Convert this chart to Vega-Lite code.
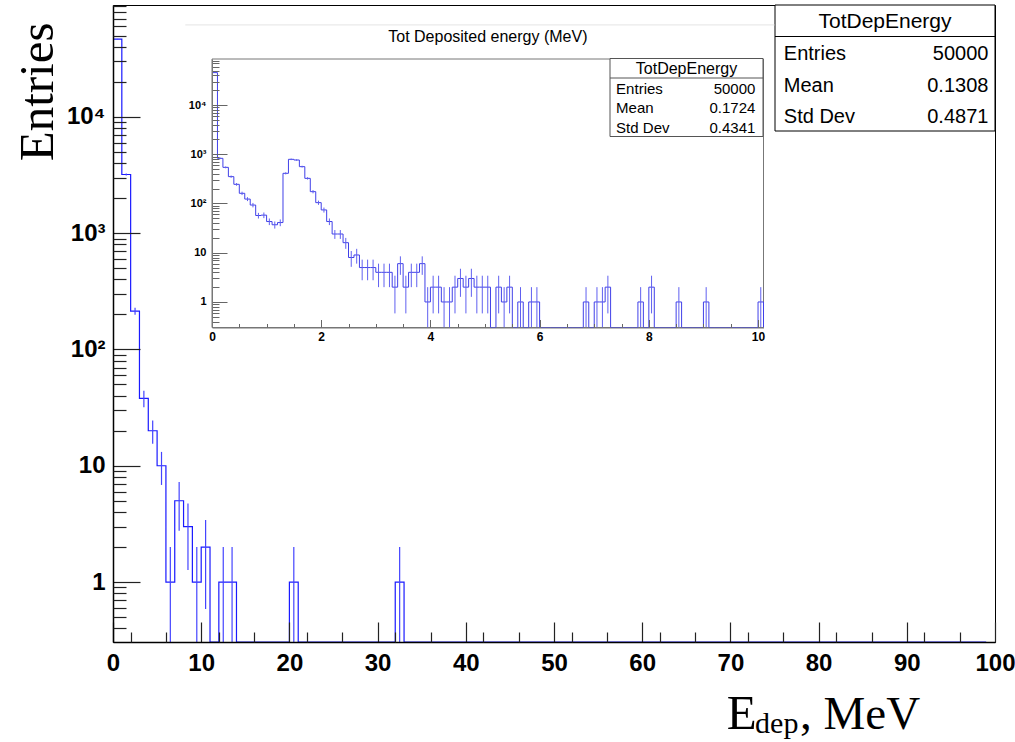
{
  "$schema": "https://vega.github.io/schema/vega-lite/v6.json",
  "width": 882,
  "height": 637,
  "autosize": {"type": "none"},
  "padding": {"left": 113, "top": 5, "right": 20, "bottom": 100},
  "background": "white",
  "config": {"view": {"stroke": "black", "strokeWidth": 1}, "axis": {"grid": false}},
  "datasets": {
    "main": [
      {"e":0,"c":0.5,"n":46700,"lo":46484,"hi":46916},
      {"e":1,"c":1.5,"n":3200,"lo":3143,"hi":3257},
      {"e":2,"c":2.5,"n":214,"lo":199.4,"hi":228.6},
      {"e":3,"c":3.5,"n":38,"lo":31.8,"hi":44.2},
      {"e":4,"c":4.5,"n":20,"lo":15.5,"hi":24.5},
      {"e":5,"c":5.5,"n":10,"lo":6.84,"hi":13.16},
      {"e":6,"c":6.5,"n":1,"lo":0,"hi":2},
      {"e":7,"c":7.5,"n":5,"lo":2.76,"hi":7.24},
      {"e":8,"c":8.5,"n":3,"lo":1.27,"hi":4.73},
      {"e":9,"c":9.5,"n":1,"lo":0,"hi":2},
      {"e":10,"c":10.5,"n":2,"lo":0.586,"hi":3.414},
      {"e":11,"c":11.5,"n":0},
      {"e":12,"c":12.5,"n":1,"lo":0,"hi":2},
      {"e":13,"c":13.5,"n":1,"lo":0,"hi":2},
      {"e":14,"c":14.5,"n":0},{"e":15,"c":15.5,"n":0},{"e":16,"c":16.5,"n":0},{"e":17,"c":17.5,"n":0},{"e":18,"c":18.5,"n":0},{"e":19,"c":19.5,"n":0},
      {"e":20,"c":20.5,"n":1,"lo":0,"hi":2},
      {"e":21,"c":21.5,"n":0},{"e":22,"c":22.5,"n":0},{"e":23,"c":23.5,"n":0},{"e":24,"c":24.5,"n":0},{"e":25,"c":25.5,"n":0},{"e":26,"c":26.5,"n":0},{"e":27,"c":27.5,"n":0},{"e":28,"c":28.5,"n":0},{"e":29,"c":29.5,"n":0},{"e":30,"c":30.5,"n":0},{"e":31,"c":31.5,"n":0},
      {"e":32,"c":32.5,"n":1,"lo":0,"hi":2},
      {"e":33,"c":33.5,"n":0},{"e":34,"c":34.5,"n":0},{"e":35,"c":35.5,"n":0},{"e":36,"c":36.5,"n":0},{"e":37,"c":37.5,"n":0},{"e":38,"c":38.5,"n":0},{"e":39,"c":39.5,"n":0},
      {"e":40,"c":40.5,"n":0},{"e":41,"c":41.5,"n":0},{"e":42,"c":42.5,"n":0},{"e":43,"c":43.5,"n":0},{"e":44,"c":44.5,"n":0},{"e":45,"c":45.5,"n":0},{"e":46,"c":46.5,"n":0},{"e":47,"c":47.5,"n":0},{"e":48,"c":48.5,"n":0},{"e":49,"c":49.5,"n":0},
      {"e":50,"c":50.5,"n":0},{"e":51,"c":51.5,"n":0},{"e":52,"c":52.5,"n":0},{"e":53,"c":53.5,"n":0},{"e":54,"c":54.5,"n":0},{"e":55,"c":55.5,"n":0},{"e":56,"c":56.5,"n":0},{"e":57,"c":57.5,"n":0},{"e":58,"c":58.5,"n":0},{"e":59,"c":59.5,"n":0},
      {"e":60,"c":60.5,"n":0},{"e":61,"c":61.5,"n":0},{"e":62,"c":62.5,"n":0},{"e":63,"c":63.5,"n":0},{"e":64,"c":64.5,"n":0},{"e":65,"c":65.5,"n":0},{"e":66,"c":66.5,"n":0},{"e":67,"c":67.5,"n":0},{"e":68,"c":68.5,"n":0},{"e":69,"c":69.5,"n":0},
      {"e":70,"c":70.5,"n":0},{"e":71,"c":71.5,"n":0},{"e":72,"c":72.5,"n":0},{"e":73,"c":73.5,"n":0},{"e":74,"c":74.5,"n":0},{"e":75,"c":75.5,"n":0},{"e":76,"c":76.5,"n":0},{"e":77,"c":77.5,"n":0},{"e":78,"c":78.5,"n":0},{"e":79,"c":79.5,"n":0},
      {"e":80,"c":80.5,"n":0},{"e":81,"c":81.5,"n":0},{"e":82,"c":82.5,"n":0},{"e":83,"c":83.5,"n":0},{"e":84,"c":84.5,"n":0},{"e":85,"c":85.5,"n":0},{"e":86,"c":86.5,"n":0},{"e":87,"c":87.5,"n":0},{"e":88,"c":88.5,"n":0},{"e":89,"c":89.5,"n":0},
      {"e":90,"c":90.5,"n":0},{"e":91,"c":91.5,"n":0},{"e":92,"c":92.5,"n":0},{"e":93,"c":93.5,"n":0},{"e":94,"c":94.5,"n":0},{"e":95,"c":95.5,"n":0},{"e":96,"c":96.5,"n":0},{"e":97,"c":97.5,"n":0},{"e":98,"c":98.5,"n":0},{"e":99,"c":99.5,"n":0}
    ],
    "inset": [
      {"e":0,"c":0.05,"n":45500,"lo":45287,"hi":45713},
      {"e":0.1,"c":0.15,"n":826,"lo":797.3,"hi":854.7},
      {"e":0.2,"c":0.25,"n":542,"lo":518.7,"hi":565.3},
      {"e":0.3,"c":0.35,"n":351,"lo":332.3,"hi":369.7},
      {"e":0.4,"c":0.45,"n":245,"lo":229.3,"hi":260.7},
      {"e":0.5,"c":0.55,"n":161,"lo":148.3,"hi":173.7},
      {"e":0.6,"c":0.65,"n":123,"lo":111.9,"hi":134.1},
      {"e":0.7,"c":0.75,"n":93,"lo":83.4,"hi":102.6},
      {"e":0.8,"c":0.85,"n":57,"lo":49.5,"hi":64.5},
      {"e":0.9,"c":0.95,"n":58,"lo":50.4,"hi":65.6},
      {"e":1.0,"c":1.05,"n":43,"lo":36.4,"hi":49.6},
      {"e":1.1,"c":1.15,"n":37,"lo":30.9,"hi":43.1},
      {"e":1.2,"c":1.25,"n":41,"lo":34.6,"hi":47.4},
      {"e":1.3,"c":1.35,"n":410,"lo":389.8,"hi":430.2},
      {"e":1.4,"c":1.45,"n":789,"lo":760.9,"hi":817.1},
      {"e":1.5,"c":1.55,"n":764,"lo":736.4,"hi":791.6},
      {"e":1.6,"c":1.65,"n":560,"lo":536.3,"hi":583.7},
      {"e":1.7,"c":1.75,"n":324,"lo":306,"hi":342},
      {"e":1.8,"c":1.85,"n":174,"lo":160.8,"hi":187.2},
      {"e":1.9,"c":1.95,"n":104,"lo":93.8,"hi":114.2},
      {"e":2.0,"c":2.05,"n":74,"lo":65.4,"hi":82.6},
      {"e":2.1,"c":2.15,"n":43,"lo":36.4,"hi":49.6},
      {"e":2.2,"c":2.25,"n":24,"lo":19.1,"hi":28.9},
      {"e":2.3,"c":2.35,"n":24,"lo":19.1,"hi":28.9},
      {"e":2.4,"c":2.45,"n":16,"lo":12,"hi":20},
      {"e":2.5,"c":2.55,"n":8,"lo":5.17,"hi":10.83},
      {"e":2.6,"c":2.65,"n":9,"lo":6,"hi":12},
      {"e":2.7,"c":2.75,"n":5,"lo":2.76,"hi":7.24},
      {"e":2.8,"c":2.85,"n":5,"lo":2.76,"hi":7.24},
      {"e":2.9,"c":2.95,"n":5,"lo":2.76,"hi":7.24},
      {"e":3.0,"c":3.05,"n":4,"lo":2,"hi":6},
      {"e":3.1,"c":3.15,"n":4,"lo":2,"hi":6},
      {"e":3.2,"c":3.25,"n":4,"lo":2,"hi":6},
      {"e":3.3,"c":3.35,"n":2,"lo":0.586,"hi":3.414},
      {"e":3.4,"c":3.45,"n":6,"lo":3.55,"hi":8.45},
      {"e":3.5,"c":3.55,"n":2,"lo":0.586,"hi":3.414},
      {"e":3.6,"c":3.65,"n":4,"lo":2,"hi":6},
      {"e":3.7,"c":3.75,"n":4,"lo":2,"hi":6},
      {"e":3.8,"c":3.85,"n":6,"lo":3.55,"hi":8.45},
      {"e":3.9,"c":3.95,"n":1,"lo":0,"hi":2},
      {"e":4.0,"c":4.05,"n":2,"lo":0.586,"hi":3.414},
      {"e":4.1,"c":4.15,"n":2,"lo":0.586,"hi":3.414},
      {"e":4.2,"c":4.25,"n":1,"lo":0,"hi":2},
      {"e":4.3,"c":4.35,"n":1,"lo":0,"hi":2},
      {"e":4.4,"c":4.45,"n":2,"lo":0.586,"hi":3.414},
      {"e":4.5,"c":4.55,"n":3,"lo":1.27,"hi":4.73},
      {"e":4.6,"c":4.65,"n":2,"lo":0.586,"hi":3.414},
      {"e":4.7,"c":4.75,"n":3,"lo":1.27,"hi":4.73},
      {"e":4.8,"c":4.85,"n":2,"lo":0.586,"hi":3.414},
      {"e":4.9,"c":4.95,"n":2,"lo":0.586,"hi":3.414},
      {"e":5.0,"c":5.05,"n":2,"lo":0.586,"hi":3.414},
      {"e":5.1,"c":5.15,"n":0},
      {"e":5.2,"c":5.25,"n":2,"lo":0.586,"hi":3.414},
      {"e":5.3,"c":5.35,"n":1,"lo":0,"hi":2},
      {"e":5.4,"c":5.45,"n":2,"lo":0.586,"hi":3.414},
      {"e":5.5,"c":5.55,"n":0},
      {"e":5.6,"c":5.65,"n":1,"lo":0,"hi":2},
      {"e":5.7,"c":5.75,"n":0},
      {"e":5.8,"c":5.85,"n":1,"lo":0,"hi":2},
      {"e":5.9,"c":5.95,"n":1,"lo":0,"hi":2},
      {"e":6.0,"c":6.05,"n":0},{"e":6.1,"c":6.15,"n":0},{"e":6.2,"c":6.25,"n":0},{"e":6.3,"c":6.35,"n":0},{"e":6.4,"c":6.45,"n":0},{"e":6.5,"c":6.55,"n":0},{"e":6.6,"c":6.65,"n":0},{"e":6.7,"c":6.75,"n":0},
      {"e":6.8,"c":6.85,"n":1,"lo":0,"hi":2},
      {"e":6.9,"c":6.95,"n":0},
      {"e":7.0,"c":7.05,"n":1,"lo":0,"hi":2},
      {"e":7.1,"c":7.15,"n":1,"lo":0,"hi":2},
      {"e":7.2,"c":7.25,"n":2,"lo":0.586,"hi":3.414},
      {"e":7.3,"c":7.35,"n":0},{"e":7.4,"c":7.45,"n":0},{"e":7.5,"c":7.55,"n":0},{"e":7.6,"c":7.65,"n":0},{"e":7.7,"c":7.75,"n":0},
      {"e":7.8,"c":7.85,"n":1,"lo":0,"hi":2},
      {"e":7.9,"c":7.95,"n":0},
      {"e":8.0,"c":8.05,"n":2,"lo":0.586,"hi":3.414},
      {"e":8.1,"c":8.15,"n":0},{"e":8.2,"c":8.25,"n":0},{"e":8.3,"c":8.35,"n":0},{"e":8.4,"c":8.45,"n":0},
      {"e":8.5,"c":8.55,"n":1,"lo":0,"hi":2},
      {"e":8.6,"c":8.65,"n":0},{"e":8.7,"c":8.75,"n":0},{"e":8.8,"c":8.85,"n":0},{"e":8.9,"c":8.95,"n":0},
      {"e":9.0,"c":9.05,"n":1,"lo":0,"hi":2},
      {"e":9.1,"c":9.15,"n":0},{"e":9.2,"c":9.25,"n":0},{"e":9.3,"c":9.35,"n":0},{"e":9.4,"c":9.45,"n":0},{"e":9.5,"c":9.55,"n":0},{"e":9.6,"c":9.65,"n":0},{"e":9.7,"c":9.75,"n":0},{"e":9.8,"c":9.85,"n":0},{"e":9.9,"c":9.95,"n":0},
      {"e":10.0,"c":10.05,"n":1,"lo":0,"hi":2},
      {"e":10.1,"c":10.15,"n":0}
    ],
    "mainStats": [
      {"role":"title","k":"TotDepEnergy","v":""},
      {"role":"stat","k":"Entries","v":"50000"},
      {"role":"stat","k":"Mean","v":"0.1308"},
      {"role":"stat","k":"Std Dev","v":"0.4871"}
    ],
    "insetStats": [
      {"role":"title","k":"TotDepEnergy","v":""},
      {"role":"stat","k":"Entries","v":"50000"},
      {"role":"stat","k":"Mean","v":"0.1724"},
      {"role":"stat","k":"Std Dev","v":"0.4341"}
    ],
    "notes": [
      {"role":"insetTitle","t":"Tot Deposited energy (MeV)"},
      {"role":"xE","t":"E"},
      {"role":"xSub","t":"dep"},
      {"role":"xUnit","t":", MeV"}
    ]
  },
  "layer": [
    {
      "data": {"name": "main"},
      "layer": [
        {
          "mark": {"type": "line", "interpolate": "step-after", "color": "#1a1aff", "strokeWidth": 1.2, "invalid": "show"},
          "encoding": {
            "x": {"field": "e", "type": "quantitative",
              "scale": {"domain": [0, 100], "nice": false, "zero": false},
              "axis": {"orient": "bottom", "title": null, "zindex": 1,
                "values": [0,10,20,30,40,50,60,70,80,90,100],
                "format": "d",
                "domain": true, "domainColor": "black", "domainWidth": 1.5,
                "tickColor": "#222", "tickWidth": 1.2, "tickSize": -20,
                "labelFont": "Liberation Sans",
                "labelFontWeight": "bold", "labelFontSize": 24, "labelColor": "black",
                "labelPadding": 29, "labelFlush": false, "labelOverlap": false, "labelBound": false}
            },
            "y": {"field": "n", "type": "quantitative",
              "scale": {"type": "log", "domain": [0.305, 91800], "nice": false, "clamp": true},
              "axis": {"orient": "left", "zindex": 1,
                "values": [1,10,100,1000,10000],
                "labelExpr": "datum.value == 1 ? '1' : datum.value == 10 ? '10' : datum.value == 100 ? '10²' : datum.value == 1000 ? '10³' : '10⁴'",
                "domain": true, "domainColor": "black", "domainWidth": 1.5,
                "tickColor": "#222", "tickWidth": 1.2, "tickSize": -27,
                "labelFont": "Liberation Sans",
                "labelFontWeight": "bold", "labelFontSize": 24, "labelColor": "black",
                "labelPadding": 35, "labelOverlap": false, "labelBound": false,
                "title": "Entries", "titleFont": "Liberation Serif", "titleFontSize": 49, "titleFontWeight": "normal",
                "titleColor": "black", "titleAngle": -90, "titleAlign": "right", "titleBaseline": "alphabetic",
                "titleX": -61, "titleY": 17}
            }
          }
        },
        {
          "transform": [{"filter": "datum.n > 0"}],
          "mark": {"type": "rule", "color": "#4444ff", "strokeWidth": 1.2, "invalid": "show"},
          "encoding": {
            "x": {"field": "c", "type": "quantitative"},
            "y": {"field": "lo", "type": "quantitative"},
            "y2": {"field": "hi"}
          }
        }
      ]
    },
    {
      "data": {"name": "inset"},
      "layer": [
        {
          "data": {"values": [{"part": "frame"}]},
          "mark": {"type": "rect", "fill": "white", "stroke": "#777", "strokeWidth": 1},
          "encoding": {
            "x": {"datum": 0, "type": "quantitative"},
            "x2": {"datum": 10.1},
            "y": {"datum": 0.303, "type": "quantitative"},
            "y2": {"datum": 86000}
          }
        },
        {
          "mark": {"type": "line", "interpolate": "step-after", "color": "#4040e8", "strokeWidth": 1, "invalid": "show", "clip": true},
          "encoding": {
            "x": {"field": "e", "type": "quantitative",
              "scale": {"domain": [0, 10.1], "range": [99, 650.5], "nice": false, "zero": false},
              "axis": {"orient": "bottom", "offset": -314.5, "title": null, "zindex": 1,
                "values": [0,0.5,1,1.5,2,2.5,3,3.5,4,4.5,5,5.5,6,6.5,7,7.5,8,8.5,9,9.5,10],
                "labelExpr": "datum.value % 2 === 0 ? format(datum.value, 'd') : ''",
                "domain": true, "domainColor": "#777", "domainWidth": 1,
                "tickColor": "#666", "tickWidth": 1,
                "tickSize": {"condition": {"test": "datum.value % 2 === 0", "value": -8}, "value": -4},
                "labelFont": "Liberation Sans", "labelFontWeight": "bold", "labelFontSize": 12, "labelColor": "black",
                "labelPadding": 12, "labelFlush": false, "labelOverlap": false, "labelBound": false}
            },
            "y": {"field": "n", "type": "quantitative",
              "scale": {"type": "log", "domain": [0.303, 86000], "range": [322.5, 54], "nice": false, "clamp": true},
              "axis": {"orient": "left", "offset": -99, "title": null, "zindex": 1,
                "values": [0.4,0.5,0.6,0.7,0.8,0.9,1,2,3,4,5,6,7,8,9,10,20,30,40,50,60,70,80,90,100,200,300,400,500,600,700,800,900,1000,2000,3000,4000,5000,6000,7000,8000,9000,10000,20000,30000,40000,50000,60000,70000,80000],
                "labelExpr": "datum.value == 1 ? '1' : datum.value == 10 ? '10' : datum.value == 100 ? '10²' : datum.value == 1000 ? '10³' : datum.value == 10000 ? '10⁴' : ''",
                "domain": true, "domainColor": "#777", "domainWidth": 1,
                "tickColor": "#666", "tickWidth": 1,
                "tickSize": {"condition": {"test": "datum.value == 1 || datum.value == 10 || datum.value == 100 || datum.value == 1000 || datum.value == 10000", "value": -15}, "value": -7},
                "labelFont": "Liberation Sans", "labelFontWeight": "bold", "labelFontSize": 11, "labelColor": "black",
                "labelPadding": 21, "labelOverlap": false, "labelBound": false}
            }
          }
        },
        {
          "transform": [{"filter": "datum.n > 0"}],
          "mark": {"type": "rule", "color": "#6060f0", "strokeWidth": 1, "invalid": "show", "clip": true},
          "encoding": {
            "x": {"field": "c", "type": "quantitative"},
            "y": {"field": "lo", "type": "quantitative"},
            "y2": {"field": "hi"}
          }
        }
      ]
    },
    {
      "data": {"name": "mainStats"},
      "layer": [
        {
          "data": {"values": [{"part": "box"}]},
          "mark": {"type": "rect", "fill": "white", "stroke": "black", "strokeWidth": 1},
          "encoding": {
            "x": {"datum": 0, "type": "quantitative", "scale": {"domain": [0, 1], "range": [662, 882]}, "axis": null},
            "x2": {"datum": 1},
            "y": {"datum": "TotDepEnergy", "type": "nominal", "bandPosition": 0,
              "scale": {"type": "band", "domain": ["TotDepEnergy", "Entries", "Mean", "Std Dev"], "range": [0, 126], "paddingInner": 0, "paddingOuter": 0}, "axis": null},
            "y2": {"datum": "Std Dev", "bandPosition": 1}
          }
        },
        {
          "data": {"values": [{"part": "sep"}]},
          "mark": {"type": "rule", "color": "black", "strokeWidth": 1},
          "encoding": {
            "x": {"datum": 0, "type": "quantitative"},
            "x2": {"datum": 1},
            "y": {"datum": "Entries", "type": "nominal", "bandPosition": 0}
          }
        },
        {
          "transform": [{"filter": "datum.role === 'title'"}],
          "mark": {"type": "text", "font": "Liberation Sans", "fontSize": 21, "color": "black", "align": "center", "baseline": "middle", "dy": 1},
          "encoding": {
            "x": {"datum": 0.5, "type": "quantitative"},
            "y": {"field": "k", "type": "nominal"},
            "text": {"field": "k"}
          }
        },
        {
          "transform": [{"filter": "datum.role === 'stat'"}],
          "mark": {"type": "text", "font": "Liberation Sans", "fontSize": 20, "color": "black", "align": "left", "baseline": "middle", "dy": 2},
          "encoding": {
            "x": {"datum": 0.04, "type": "quantitative"},
            "y": {"field": "k", "type": "nominal"},
            "text": {"field": "k"}
          }
        },
        {
          "transform": [{"filter": "datum.role === 'stat'"}],
          "mark": {"type": "text", "font": "Liberation Sans", "fontSize": 20, "color": "black", "align": "right", "baseline": "middle", "dy": 2},
          "encoding": {
            "x": {"datum": 0.97, "type": "quantitative"},
            "y": {"field": "k", "type": "nominal"},
            "text": {"field": "v"}
          }
        }
      ]
    },
    {
      "data": {"name": "insetStats"},
      "layer": [
        {
          "data": {"values": [{"part": "box"}]},
          "mark": {"type": "rect", "fill": "white", "stroke": "#555", "strokeWidth": 1},
          "encoding": {
            "x": {"datum": 0, "type": "quantitative", "scale": {"domain": [0, 1], "range": [497, 650]}, "axis": null},
            "x2": {"datum": 1},
            "y": {"datum": "TotDepEnergy", "type": "nominal", "bandPosition": 0,
              "scale": {"type": "band", "domain": ["TotDepEnergy", "Entries", "Mean", "Std Dev"], "range": [53.5, 131.5], "paddingInner": 0, "paddingOuter": 0}, "axis": null},
            "y2": {"datum": "Std Dev", "bandPosition": 1}
          }
        },
        {
          "data": {"values": [{"part": "sep"}]},
          "mark": {"type": "rule", "color": "#555", "strokeWidth": 1},
          "encoding": {
            "x": {"datum": 0, "type": "quantitative"},
            "x2": {"datum": 1},
            "y": {"datum": "Entries", "type": "nominal", "bandPosition": 0}
          }
        },
        {
          "transform": [{"filter": "datum.role === 'title'"}],
          "mark": {"type": "text", "font": "Liberation Sans", "fontSize": 16, "color": "black", "align": "center", "baseline": "middle", "dy": 1},
          "encoding": {
            "x": {"datum": 0.5, "type": "quantitative"},
            "y": {"field": "k", "type": "nominal"},
            "text": {"field": "k"}
          }
        },
        {
          "transform": [{"filter": "datum.role === 'stat'"}],
          "mark": {"type": "text", "font": "Liberation Sans", "fontSize": 15, "color": "black", "align": "left", "baseline": "middle", "dy": 1},
          "encoding": {
            "x": {"datum": 0.04, "type": "quantitative"},
            "y": {"field": "k", "type": "nominal"},
            "text": {"field": "k"}
          }
        },
        {
          "transform": [{"filter": "datum.role === 'stat'"}],
          "mark": {"type": "text", "font": "Liberation Sans", "fontSize": 15, "color": "black", "align": "right", "baseline": "middle", "dy": 1},
          "encoding": {
            "x": {"datum": 0.95, "type": "quantitative"},
            "y": {"field": "k", "type": "nominal"},
            "text": {"field": "v"}
          }
        }
      ]
    },
    {
      "data": {"name": "notes"},
      "layer": [
        {
          "data": {"values": [{"part": "padTop"}]},
          "mark": {"type": "rule", "color": "#e4e4e4", "strokeWidth": 1},
          "encoding": {
            "x": {"datum": 8.2, "type": "quantitative",
              "scale": {"domain": [0, 100], "nice": false, "zero": false},
              "axis": {"orient": "bottom", "title": null, "zindex": 1, "labels": false, "domain": false,
                "values": [2,4,6,8,12,14,16,18,22,24,26,28,32,34,36,38,42,44,46,48,52,54,56,58,62,64,66,68,72,74,76,78,82,84,86,88,92,94,96,98],
                "tickColor": "#222", "tickWidth": 1.2, "tickSize": -10}},
            "x2": {"datum": 75},
            "y": {"datum": 61860, "type": "quantitative",
              "scale": {"type": "log", "domain": [0.305, 91800], "nice": false},
              "axis": {"orient": "left", "title": null, "zindex": 1, "labels": false, "domain": false,
                "values": [0.4,0.5,0.6,0.7,0.8,0.9,2,3,4,5,6,7,8,9,20,30,40,50,60,70,80,90,200,300,400,500,600,700,800,900,2000,3000,4000,5000,6000,7000,8000,9000,20000,30000,40000,50000,60000,70000,80000,90000],
                "tickColor": "#222", "tickWidth": 1.2, "tickSize": -13}}
          }
        },
        {
          "transform": [{"filter": "datum.role === 'insetTitle'"}],
          "mark": {"type": "text", "font": "Liberation Sans", "fontSize": 16, "color": "black", "align": "center", "baseline": "middle"},
          "encoding": {"x": {"datum": 42.5, "type": "quantitative"}, "y": {"datum": 48760, "type": "quantitative"}, "text": {"field": "t"}}
        },
        {
          "transform": [{"filter": "datum.role === 'xE'"}],
          "mark": {"type": "text", "font": "Liberation Serif", "fontSize": 49, "color": "black", "align": "left", "baseline": "alphabetic"},
          "encoding": {"x": {"datum": 69.6, "type": "quantitative"}, "y": {"datum": 0.05438, "type": "quantitative"}, "text": {"field": "t"}}
        },
        {
          "transform": [{"filter": "datum.role === 'xSub'"}],
          "mark": {"type": "text", "font": "Liberation Serif", "fontSize": 30, "color": "black", "align": "left", "baseline": "alphabetic"},
          "encoding": {"x": {"datum": 72.8, "type": "quantitative"}, "y": {"datum": 0.05024, "type": "quantitative"}, "text": {"field": "t"}}
        },
        {
          "transform": [{"filter": "datum.role === 'xUnit'"}],
          "mark": {"type": "text", "font": "Liberation Serif", "fontSize": 47, "color": "black", "align": "left", "baseline": "alphabetic"},
          "encoding": {"x": {"datum": 77.9, "type": "quantitative"}, "y": {"datum": 0.05438, "type": "quantitative"}, "text": {"field": "t"}}
        }
      ]
    }
  ],
  "resolve": {"scale": {"x": "independent", "y": "independent"}}
}
